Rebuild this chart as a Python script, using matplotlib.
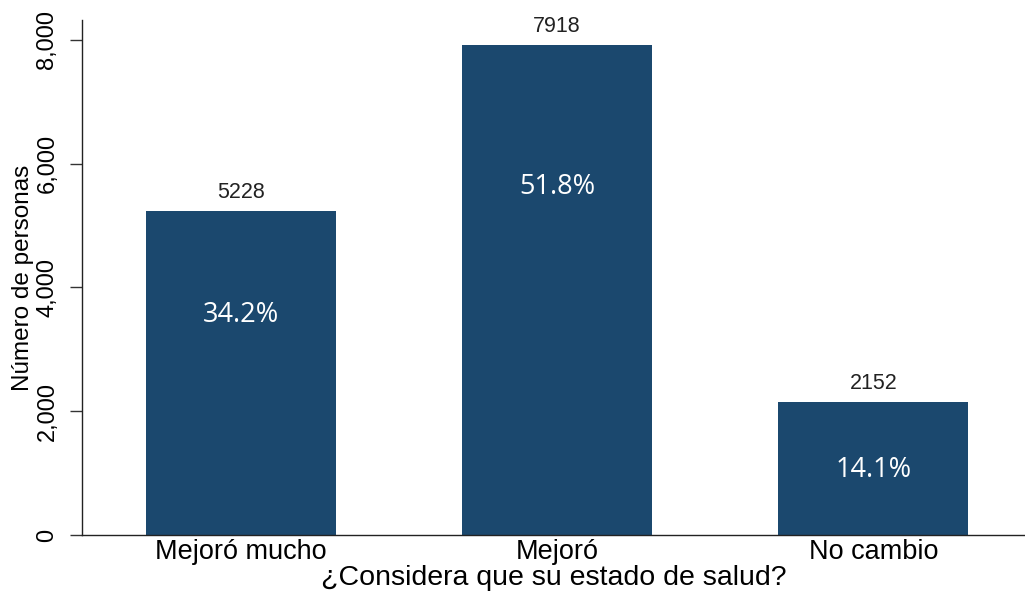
import matplotlib
matplotlib.use("Agg")
import matplotlib.pyplot as plt

# Survey answers: perceived change in health status
categories = ["Mejoró mucho", "Mejoró", "No cambio"]
counts = [5228, 7918, 2152]
percent_labels = ["34.2%", "51.8%", "14.1%"]
yticks = [0, 2000, 4000, 6000, 8000]
ytick_labels = ["0", "2,000", "4,000", "6,000", "8,000"]

# Heights (data units) where the share labels sit inside each bar
pct_label_y = [3550, 5620, 1050]

bar_color = "#1b486e"

fig = plt.figure(figsize=(10.25, 6.0), dpi=100)
ax = fig.add_axes([0.080, 0.108, 0.920, 0.859])

x = list(range(len(categories)))
ax.bar(x, counts, width=0.6, color=bar_color)

for xi, val in zip(x, counts):
    ax.text(xi, val + 130, str(val), ha="center", va="bottom",
            fontsize=15.5, family="Liberation Sans", color="#222222")

for xi, lab, yy in zip(x, percent_labels, pct_label_y):
    ax.text(xi, yy, lab, ha="center", va="center",
            fontsize=19.5, family="Open Sans", color="white")

ax.set_xlim(-0.503, 2.48)
ax.set_ylim(0, 8320)

ax.set_xticks(x)
ax.set_xticklabels(categories, fontsize=19.5, family="Liberation Sans")
ax.tick_params(axis="x", length=0, pad=3)

ax.set_yticks(yticks)
ax.set_yticklabels(ytick_labels, rotation=90, va="center",
                   fontsize=17, family="Liberation Sans")
ax.tick_params(axis="y", length=9, width=1, pad=8, color="#333333")

ax.set_xlabel("¿Considera que su estado de salud?", fontsize=20.5,
              family="Liberation Sans", labelpad=0)
ax.set_ylabel("Número de personas", fontsize=17.5,
              family="Liberation Sans", labelpad=2)

for side in ("top", "right"):
    ax.spines[side].set_visible(False)
for side in ("left", "bottom"):
    ax.spines[side].set_linewidth(1.0)
    ax.spines[side].set_color("#222222")

fig.savefig("out.png", dpi=100, facecolor="white")
